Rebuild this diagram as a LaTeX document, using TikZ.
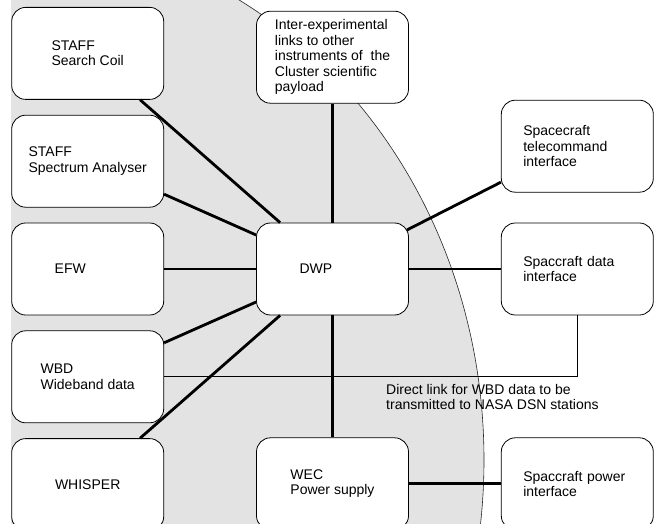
\documentclass[tikz,border=0pt]{standalone}
\usepackage{fontspec}
\setmainfont{Liberation Sans}
\usetikzlibrary{positioning}
\definecolor{panel}{RGB}{227,227,227}

\begin{document}
\begin{tikzpicture}[
    x=1pt, y=-1pt,
    node distance=15pt,
    unit_node/.style={rectangle, rounded corners=14pt, draw=black, line width=0.8pt, fill=white, minimum width=152pt, minimum height=92pt, align=left, font=\fontsize{14}{15.5}\selectfont},
    left_text/.style={text width=66pt, inner xsep=43pt},
    side_text/.style={text width=108pt, inner xsep=22pt},
    link/.style={line width=2.8pt},
    thin_link/.style={line width=0.8pt},
    note_label/.style={font=\fontsize{14}{15.5}\selectfont, align=left, inner sep=0pt}
]
\clip (0,0) rectangle (659,524);

% Cluster payload area
\begin{scope}
\clip (11,-100) rectangle (700,600);
\fill[panel] (11,460) ellipse [x radius=473pt, y radius=525pt];
\draw[black!85, line width=0.6pt] (11,460) ellipse [x radius=473pt, y radius=525pt];
\end{scope}

% Central processor
\node[unit_node, left_text] (dwp) at (332.5,269) {DWP};

% Instruments on the left
\node[unit_node, left_text, left=92pt of dwp] (efw) {EFW};
\node[unit_node, above=of efw] (staff_sa) {STAFF\\Spectrum Analyser};
\node[unit_node, above=of staff_sa] (staff_sc) {STAFF\\Search Coil};
\node[unit_node, below=of efw] (wbd) {WBD\\Wideband data};
\node[unit_node, below=of wbd] (whisper) {WHISPER};

% Above and below DWP
\node[unit_node, above=119pt of dwp] (interexp) {Inter-experimental\\links to other\\instruments of\ \ the\\Cluster scientific\\payload};
\node[unit_node, below=122pt of dwp] (wec) {WEC\\Power supply};

% Spacecraft interfaces
\node[unit_node, side_text, right=92pt of dwp] (sc_data) {Spaccraft data\\interface};
\node[unit_node, side_text, above=30pt of sc_data] (sc_tc) {Spacecraft\\telecommand\\interface};
\node[unit_node, side_text, right=92pt of wec] (sc_power) {Spaccraft power\\interface};

% Links
\draw[link] ([xshift=-24pt]staff_sc.south east) -- ([xshift=24pt]dwp.north west);
\draw[link] ([yshift=-33pt]staff_sa.east) -- ([yshift=34pt]dwp.west);
\draw[link] (efw.east) -- (dwp.west);
\draw[link] ([yshift=34pt]wbd.east) -- ([yshift=-33pt]dwp.west);
\draw[link] ([xshift=-24pt]whisper.north east) -- ([xshift=24pt]dwp.south west);
\draw[link] (interexp.south) -- (dwp.north);
\draw[link] ([yshift=39pt,xshift=-2pt]dwp.east) -- ([yshift=-36pt]sc_tc.west);
\draw[link] (dwp.east) -- (sc_data.west);
\draw[link] (wec.north) -- (dwp.south);
\draw[link] (wec.east) -- (sc_power.west);

% Direct WBD link
\draw[thin_link] (wbd.east) -| (sc_data.south);
\node[note_label, anchor=north west] (wbd_note) at (386,384) {Direct link for WBD data to be\\transmitted to NASA DSN stations};

\end{tikzpicture}
\end{document}
